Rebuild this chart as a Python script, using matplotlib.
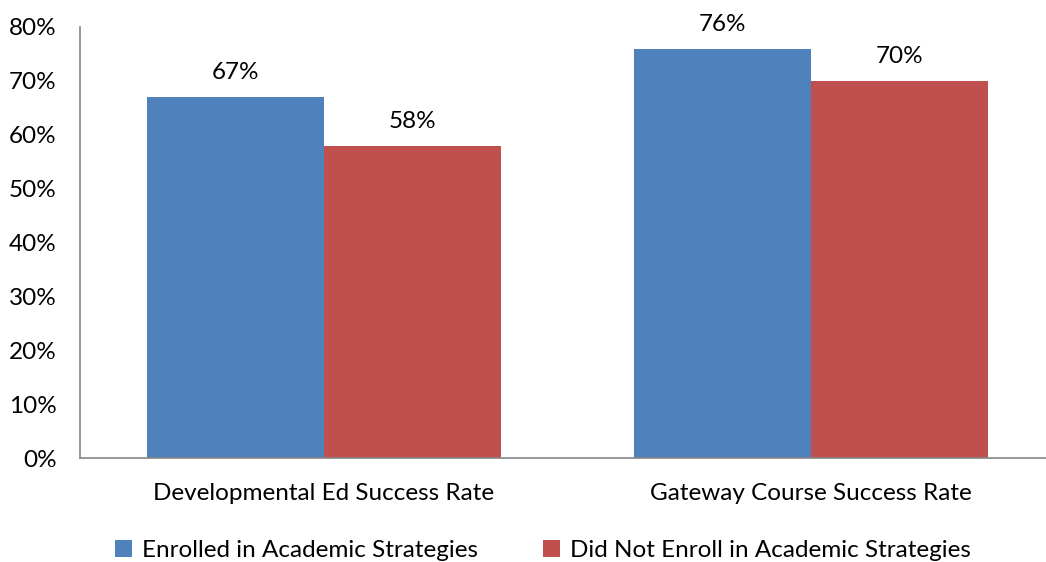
import matplotlib.pyplot as plt
import numpy as np

categories = ['Developmental Ed Success Rate', 'Gateway Course Success Rate']
series_names = ['Enrolled in Academic Strategies', 'Did Not Enroll in Academic Strategies']
enrolled = [67, 76]
not_enrolled = [58, 70]
yticks = [0, 10, 20, 30, 40, 50, 60, 70, 80]

plt.rcParams['font.family'] = ['Lato', 'DejaVu Sans']
fs = 17.5

fig = plt.figure(figsize=(10.46, 5.62), dpi=100)
ax = fig.add_axes([0.0765, 0.185, 0.9235, 0.767])

x = np.arange(len(categories))
w = 0.363
b1 = ax.bar(x - w / 2, enrolled, width=w, color='#4F81BD', label=series_names[0])
b2 = ax.bar(x + w / 2, not_enrolled, width=w, color='#C0504D', label=series_names[1])

for bars, vals in [(b1, enrolled), (b2, not_enrolled)]:
    for r, v in zip(bars, vals):
        ax.text(r.get_x() + r.get_width() / 2, v + 2.6, f'{v}%', ha='center', va='bottom', fontsize=fs)

ax.set_xlim(-0.501, 1.483)
ax.set_ylim(0, 80)
ax.set_yticks(yticks)
ax.set_yticklabels([f'{t}%' for t in yticks], fontsize=fs)
ax.set_xticks(x)
ax.set_xticklabels(categories, fontsize=fs)
ax.tick_params(axis='both', length=0)
ax.tick_params(axis='y', pad=17)
ax.tick_params(axis='x', pad=18)

for s in ['top', 'right']:
    ax.spines[s].set_visible(False)
for s in ['left', 'bottom']:
    ax.spines[s].set_color('#868686')
    ax.spines[s].set_linewidth(1.2)

fig.legend(loc='lower center', bbox_to_anchor=(0.519, -0.038), ncol=2, frameon=False,
           fontsize=fs, handlelength=0.7, handleheight=0.7, handletextpad=0.4, columnspacing=2.7)

fig.savefig('out.png', dpi=100)
